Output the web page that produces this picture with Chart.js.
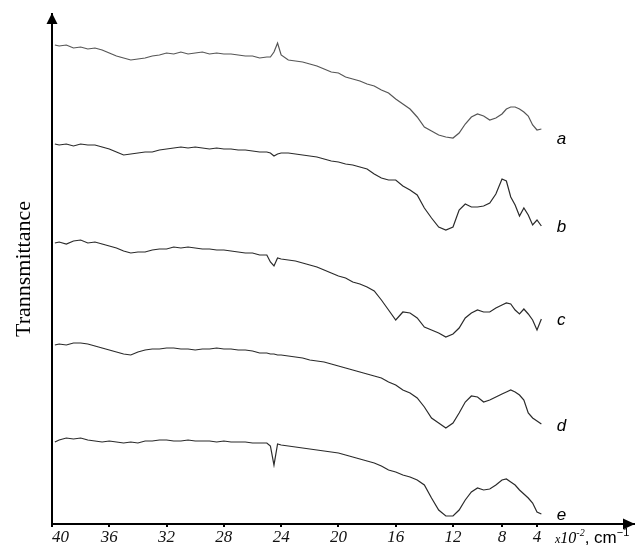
<!DOCTYPE html>
<html><head><meta charset="utf-8">
<script src="https://cdn.jsdelivr.net/npm/chart.js@4/dist/chart.umd.min.js"></script>
<style>html,body{margin:0;padding:0;background:#fff}#wrap{width:635px;height:545px;position:relative}</style>
</head><body><div id="wrap"><canvas id="c"></canvas></div>
<script>
// wavenumber, x10^-2 cm^-1
const wavenumbers = [39.8,39.5,39,38.5,38,37.5,37,36.5,36,35.5,35,34.5,34,33.5,33,32.5,32,31.5,31,30.5,30,29.5,29,28.5,28,27.5,27,26.5,26,25.5,25,24.75,24.5,24.25,24,23.5,23,22.5,22,21.5,21,20.5,20,19.5,19,18.5,18,17.5,17,16.5,16,15.5,15,14.5,14,13.5,13,12.5,12,11.5,11,10.5,10,9.5,9,8.5,8,7.5,7,6.5,6,5.5,5,4.5,4,3.5];
// transmittance (arbitrary units, spectra offset vertically)
const seriesA = [95.8,95.6,95.8,95.2,95.4,95.0,95.2,94.8,94.2,93.6,93.2,92.8,93.0,93.2,93.6,93.8,94.2,94.0,94.4,94.0,94.2,94.4,94.0,94.2,94.0,94.0,93.8,93.6,93.6,93.2,93.4,93.4,94.4,96.2,93.8,92.8,92.6,92.4,92.0,91.6,91.0,90.4,90.2,89.4,89.0,88.6,88.0,87.6,86.8,86.2,85.0,84.0,83.0,81.4,79.4,78.6,77.8,77.4,77.2,78.2,80.0,81.4,82.0,81.6,80.8,81.2,82.0,83.0,83.4,83.4,83.0,82.4,81.6,79.8,78.8,79.0];
const seriesB = [76.0,75.8,76.0,75.6,76.0,75.8,75.8,75.4,75.0,74.4,73.8,74.0,74.2,74.4,74.4,74.8,75.0,75.2,75.4,75.2,75.4,75.2,75.0,75.2,75.0,75.0,74.8,74.8,74.6,74.4,74.4,74.2,73.6,74.0,74.2,74.2,74.0,73.8,73.6,73.4,73.0,72.6,72.4,72.0,71.8,71.4,71.0,70.0,69.2,68.8,68.8,67.6,66.8,65.8,63.2,61.2,59.4,58.8,59.4,62.8,64.0,63.4,63.4,63.6,64.2,66.0,69.0,68.6,65.4,63.8,61.6,63.2,61.8,59.8,60.8,59.6];
const seriesC = [56.2,56.4,56.0,56.6,56.8,56.2,56.4,56.0,55.6,55.2,54.6,54.2,54.4,54.4,54.8,55.0,55.0,55.4,55.2,55.4,55.2,55.0,55.0,54.8,54.8,54.6,54.4,54.2,54.2,53.8,53.8,52.4,51.6,53.2,53.0,52.8,52.6,52.2,51.8,51.4,50.8,50.2,49.6,49.2,48.4,48.0,47.4,46.6,44.8,42.8,40.8,42.4,42.2,41.2,39.4,38.8,38.2,37.4,38.0,39.2,41.2,42.2,42.8,42.4,42.4,43.2,43.8,44.2,44.0,42.8,42.0,43.0,42.0,40.8,38.8,41.0];
const seriesD = [35.8,36.0,35.8,36.2,36.2,36.0,35.6,35.2,34.8,34.4,34.0,33.8,34.4,34.8,35.0,35.0,35.2,35.2,35.0,35.0,34.8,35.0,35.0,35.2,35.0,35.0,34.8,34.8,34.6,34.2,34.2,34.0,34.0,33.8,33.8,33.6,33.4,33.2,32.8,32.6,32.4,32.0,31.6,31.2,30.8,30.4,30.0,29.6,29.2,28.4,27.8,26.8,26.2,25.2,23.4,21.2,20.2,19.2,20.2,22.2,24.4,25.6,25.4,24.4,24.8,25.4,26.0,26.4,26.8,26.4,25.8,24.8,22.2,21.2,20.6,20.0];
const seriesE = [16.4,16.8,17.2,17.0,17.2,16.8,16.6,16.4,16.6,16.4,16.2,16.4,16.2,16.6,16.6,16.8,16.8,16.6,16.6,16.8,16.6,16.6,16.6,16.4,16.6,16.4,16.4,16.4,16.2,16.2,16.2,15.6,11.8,16.0,15.8,15.6,15.4,15.2,15.0,14.8,14.6,14.4,14.2,13.8,13.4,13.0,12.6,12.2,11.6,10.8,10.4,9.8,9.4,8.8,7.8,5.2,2.8,1.6,1.6,2.8,4.8,6.4,7.2,6.8,7.0,7.8,8.8,9.0,8.4,7.8,6.8,6.0,5.2,4.2,2.4,2.0];
const seriesNames = ['a','b','c','d','e'];
const seriesValues = [seriesA, seriesB, seriesC, seriesD, seriesE];
const xTickValues = [40,36,32,28,24,20,16,12,8,4];
const yAxisTitle = 'Trannsmittance';

// x-axis of the original is not uniform: piecewise-linear segments (value -> relative length)
const X_SEGMENTS = [[40,0],[12,401],[8,450],[4,485],[-7.1,582]];
const X_END = X_SEGMENTS[X_SEGMENTS.length-1][0];

class WarpScale extends Chart.LinearScale {
  _unitOf(v) {
    const b = X_SEGMENTS;
    for (let i = 0; i < b.length - 1; i++) {
      const [v0,u0] = b[i], [v1,u1] = b[i+1];
      if (v >= v1 || i === b.length - 2) return u0 + (v0 - v) * (u1 - u0) / (v0 - v1);
    }
  }
  getPixelForValue(v) {
    if (v === null || v === undefined || isNaN(v)) return NaN;
    const total = X_SEGMENTS[X_SEGMENTS.length-1][1];
    return this.getPixelForDecimal(this._unitOf(v) / total);
  }
  getValueForPixel(p) {
    const b = X_SEGMENTS;
    const u = this.getDecimalForPixel(p) * b[b.length-1][1];
    for (let i = 0; i < b.length - 1; i++) {
      const [v0,u0] = b[i], [v1,u1] = b[i+1];
      if (u <= u1 || i === b.length - 2) return v0 - (u - u0) * (v0 - v1) / (u1 - u0);
    }
  }
}
WarpScale.id = 'warp';
WarpScale.defaults = Chart.LinearScale.defaults;
Chart.register(WarpScale);

const serif = '"Liberation Serif", "Times New Roman", serif';

const axisArrows = {
  id: 'axisArrows',
  afterDraw(chart) {
    const {ctx, chartArea: a} = chart;
    ctx.save();
    ctx.fillStyle = '#000';
    ctx.beginPath();
    ctx.moveTo(a.left, a.top - 1);
    ctx.lineTo(a.left - 5.5, a.top + 10);
    ctx.lineTo(a.left + 5.5, a.top + 10);
    ctx.closePath(); ctx.fill();
    ctx.beginPath();
    ctx.moveTo(a.right + 1, a.bottom);
    ctx.lineTo(a.right - 11, a.bottom - 5.5);
    ctx.lineTo(a.right - 11, a.bottom + 5.5);
    ctx.closePath(); ctx.fill();
    ctx.restore();
  }
};

const seriesLabels = {
  id: 'seriesLabels',
  afterDatasetsDraw(chart, args, opts) {
    const ctx = chart.ctx;
    ctx.save();
    ctx.font = 'italic 17px "Liberation Sans", Arial, sans-serif';
    ctx.fillStyle = '#000';
    ctx.textAlign = 'center';
    ctx.textBaseline = 'middle';
    chart.data.datasets.forEach((ds, i) => {
      const meta = chart.getDatasetMeta(i);
      const p = meta.data[meta.data.length - 1];
      ctx.fillText(ds.label, p.x + opts.dx, p.y + opts.dy[i]);
    });
    ctx.restore();
  }
};

const xUnitTitle = {
  id: 'xUnitTitle',
  afterDraw(chart) {
    const {ctx, chartArea: a} = chart;
    const parts = [
      {t: 'x', f: 'italic 12px ' + serif, dy: 0},
      {t: '10', f: 'italic 16px ' + serif, dy: 0},
      {t: '-2', f: 'italic 10px ' + serif, dy: -7},
      {t: ', cm', f: '17px "Liberation Sans", Arial, sans-serif', dy: 0},
      {t: '\u22121', f: '11px "Liberation Sans", Arial, sans-serif', dy: -7}
    ];
    ctx.save();
    ctx.fillStyle = '#000';
    ctx.textBaseline = 'alphabetic';
    ctx.textAlign = 'left';
    let x = a.right - 79;
    const y = a.bottom + 19;
    parts.forEach(p => {
      ctx.font = p.f;
      ctx.fillText(p.t, x, y + p.dy);
      x += ctx.measureText(p.t).width;
    });
    ctx.restore();
  }
};

const datasets = seriesValues.map((vals, i) => ({
  label: seriesNames[i],
  data: vals.map((y, k) => ({x: wavenumbers[k], y})),
  borderColor: i === 0 ? '#555' : '#2a2a2a',
  borderWidth: 1.2,
  pointRadius: 0,
  tension: 0,
  fill: false
}));

new Chart(document.getElementById('c'), {
  type: 'line',
  data: {datasets},
  options: {
    responsive: true,
    maintainAspectRatio: false,
    animation: false,
    layout: {padding: {left: 0, right: 1, top: 14, bottom: 0}},
    plugins: {
      legend: {display: false},
      tooltip: {enabled: false},
      seriesLabels: {dx: 20, dy: [10, 1, 1, 2, 1]}
    },
    scales: {
      x: {
        type: 'warp',
        position: 'bottom',
        min: X_END,
        max: 40,
        afterBuildTicks: s => { s.ticks = xTickValues.concat([X_END]).map(v => ({value: v})); },
        afterFit: s => { s.height = 21; },
        border: {display: true, color: '#000', width: 2},
        grid: {
          display: true, drawOnChartArea: false, drawTicks: true, tickLength: 3, lineWidth: 2,
          color: c => (c.tick && c.tick.value === X_END) ? 'rgba(0,0,0,0)' : '#000'
        },
        ticks: {
          autoSkip: false, maxRotation: 0, minRotation: 0, align: 'inner', padding: 0,
          color: '#111',
          font: {family: serif, size: 17, style: 'italic'},
          callback: v => (v === X_END ? '' : String(v))
        }
      },
      y: {
        type: 'linear',
        min: 0,
        max: 102,
        afterFit: s => { s.width = 52; },
        border: {display: true, color: '#000', width: 2},
        grid: {display: false},
        ticks: {display: false},
        title: {display: true, text: yAxisTitle, color: '#000', font: {family: serif, size: 22}, padding: {top: 11, bottom: 0}}
      }
    }
  },
  plugins: [axisArrows, seriesLabels, xUnitTitle]
});
</script>
</body></html>
